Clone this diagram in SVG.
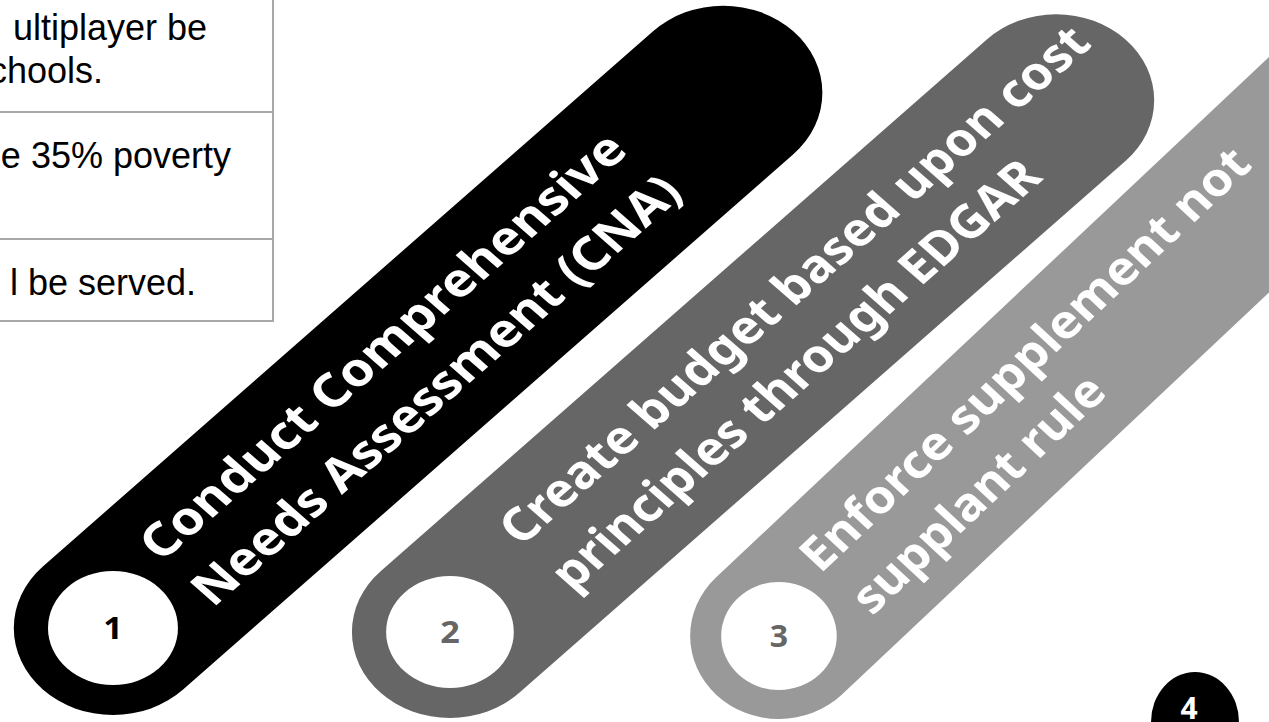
<svg xmlns="http://www.w3.org/2000/svg" width="1269" height="722" viewBox="0 0 1269 722">
<style>
.grid{stroke:#a8a8a8;stroke-width:2;fill:none}
.tt{font-family:"Liberation Sans",Arial,sans-serif;font-size:36px;fill:#000}
.pt{font-family:"Noto Sans","Open Sans",sans-serif;font-weight:700;font-size:46px;fill:#fff}
.num{font-family:"Noto Sans","Open Sans",sans-serif;font-weight:700;font-size:30px;text-anchor:middle}
</style>
<rect width="1269" height="722" fill="#fff"/>
<g id="table">
<line class="grid" x1="273" y1="0" x2="273" y2="322"/>
<line class="grid" x1="0" y1="112" x2="273" y2="112"/>
<line class="grid" x1="0" y1="239" x2="273" y2="239"/>
<line class="grid" x1="0" y1="321" x2="274" y2="321"/>
<text class="tt" x="207" y="40" text-anchor="end">ultiplayer be</text>
<text class="tt" x="103" y="83" text-anchor="end">chools.</text>
<text class="tt" x="231" y="168" text-anchor="end">e 35% poverty</text>
<text class="tt" x="196" y="295" text-anchor="end">l be served.</text>
</g>
<g id="step1" transform="scale(1.14,1) translate(99.1,628) rotate(-45)">
<rect x="-87" y="-87" width="931" height="174" rx="87" fill="#000"/>
<circle r="57" fill="#fff"/>
<text class="pt" x="76" y="-16" textLength="581" lengthAdjust="spacingAndGlyphs">Conduct Comprehensive</text>
<text class="pt" x="76" y="48" textLength="585" lengthAdjust="spacingAndGlyphs">Needs Assessment (CNA)</text>
<text class="num" transform="rotate(45)" y="11" fill="#000">1</text>
</g>
<g id="step2" transform="scale(1.14,1) translate(394.7,632) rotate(-45)">
<rect x="-86" y="-86" width="924" height="172" rx="86" fill="#666"/>
<circle r="56" fill="#fff"/>
<text class="pt" x="104" y="-16" textLength="710" lengthAdjust="spacingAndGlyphs">Create budget based upon cost</text>
<text class="pt" x="104" y="48" textLength="585" lengthAdjust="spacingAndGlyphs">principles through EDGAR</text>
<text class="num" transform="rotate(45)" y="11" fill="#666">2</text>
</g>
<g id="step3" transform="scale(1.07,1) translate(728,636) rotate(-45.2)">
<rect x="-83" y="-83" width="1000" height="166" rx="83" fill="#999"/>
<circle r="54" fill="#fff"/>
<text class="pt" x="71" y="-16" textLength="575" lengthAdjust="spacingAndGlyphs">Enforce supplement not</text>
<text class="pt" x="75" y="48" textLength="314" lengthAdjust="spacingAndGlyphs">supplant rule</text>
<text class="num" transform="rotate(45.2)" y="11" fill="#666">3</text>
</g>
<g id="step4">
<ellipse cx="1195" cy="722" rx="44" ry="50" fill="#000"/>
<text class="num" x="1189" y="719" fill="#fff" font-size="28">4</text>
</g>
</svg>
